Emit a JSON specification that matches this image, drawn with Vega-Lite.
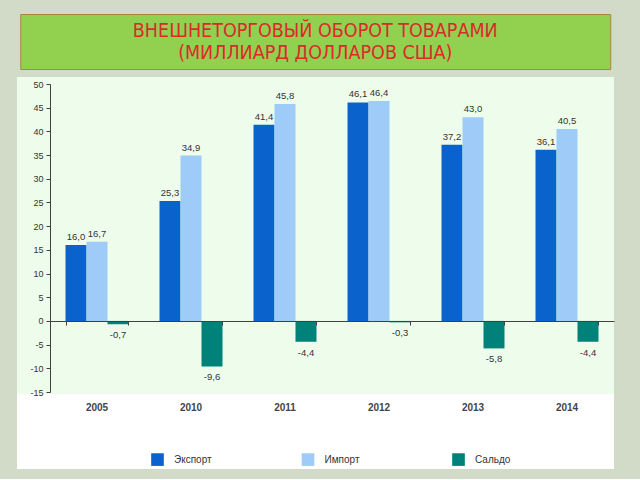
{
  "$schema": "https://vega.github.io/schema/vega-lite/v6.json",
  "background": "#d2dbc8",
  "padding": {"left": 17, "top": 13, "right": 26, "bottom": 10},
  "spacing": 6,
  "center": true,
  "config": {
    "locale": {"number": {"decimal": ",", "thousands": " ", "grouping": [3], "currency": ["", ""], "minus": "-"}},
    "font": "Liberation Sans",
    "view": {"stroke": null}
  },
  "datasets": {
    "heading": [
      {"line": 1, "text": "ВНЕШНЕТОРГОВЫЙ ОБОРОТ ТОВАРАМИ"},
      {"line": 2, "text": "(МИЛЛИАРД ДОЛЛАРОВ США)"}
    ],
    "trade": [
      {"year": "2005", "series": "Экспорт", "value": 16.0},
      {"year": "2005", "series": "Импорт", "value": 16.7},
      {"year": "2005", "series": "Сальдо", "value": -0.7},
      {"year": "2010", "series": "Экспорт", "value": 25.3},
      {"year": "2010", "series": "Импорт", "value": 34.9},
      {"year": "2010", "series": "Сальдо", "value": -9.6},
      {"year": "2011", "series": "Экспорт", "value": 41.4},
      {"year": "2011", "series": "Импорт", "value": 45.8},
      {"year": "2011", "series": "Сальдо", "value": -4.4},
      {"year": "2012", "series": "Экспорт", "value": 46.1},
      {"year": "2012", "series": "Импорт", "value": 46.4},
      {"year": "2012", "series": "Сальдо", "value": -0.3},
      {"year": "2013", "series": "Экспорт", "value": 37.2},
      {"year": "2013", "series": "Импорт", "value": 43.0},
      {"year": "2013", "series": "Сальдо", "value": -5.8},
      {"year": "2014", "series": "Экспорт", "value": 36.1},
      {"year": "2014", "series": "Импорт", "value": 40.5},
      {"year": "2014", "series": "Сальдо", "value": -4.4}
    ]
  },
  "vconcat": [
    {
      "width": 590,
      "height": 55,
      "view": {"fill": "#92d050", "stroke": "#a8873a", "strokeWidth": 1},
      "data": {"name": "heading"},
      "mark": {"type": "text", "font": "DejaVu Sans Condensed, Liberation Sans", "fontSize": 19.5, "color": "#dc2a2a", "align": "center", "baseline": "middle"},
      "encoding": {
        "y": {"field": "line", "type": "ordinal", "axis": null, "scale": {"padding": 0.75}},
        "text": {"field": "text"}
      }
    },
    {
      "width": 597,
      "height": 392,
      "view": {"fill": "#ffffff", "stroke": null},
      "data": {"name": "trade"},
      "resolve": {"axis": {"x": "independent"}},
      "layer": [
        {
          "data": {"values": [{"area": "plot"}]},
          "mark": {"type": "rect", "color": "#eefcec"},
          "encoding": {
            "y": {"datum": -15.4, "type": "quantitative"},
            "y2": {"datum": 51.5}
          }
        },
        {
          "mark": {"type": "bar"},
          "encoding": {
            "x": {"field": "year", "type": "nominal", "sort": null,
              "scale": {"range": [33, 597], "paddingInner": 0.33, "paddingOuter": 0.165},
              "axis": {"orient": "bottom", "offset": -148, "zindex": 1, "title": null, "labels": false, "ticks": true, "tickBand": "extent", "tickSize": 4, "tickColor": "#404040", "domainColor": "#404040", "grid": false}},
            "xOffset": {"field": "series", "sort": ["Экспорт", "Импорт", "Сальдо"], "scale": {"paddingInner": 0, "paddingOuter": 0}},
            "y": {"field": "value", "type": "quantitative",
              "scale": {"domain": [-15, 50], "range": [315, 7], "nice": false},
              "axis": {"title": null, "zindex": 1, "values": [-15, -10, -5, 0, 5, 10, 15, 20, 25, 30, 35, 40, 45, 50], "tickCount": 20, "labelOverlap": false, "format": "d", "grid": false, "offset": -33, "domainColor": "#404040", "tickColor": "#404040", "tickSize": 4, "labelFontSize": 9, "labelColor": "#333333", "labelPadding": 3}},
            "color": {"field": "series", "type": "nominal", "sort": ["Экспорт", "Импорт", "Сальдо"],
              "scale": {"domain": ["Экспорт", "Импорт", "Сальдо"], "range": ["#0a62cc", "#9fcbf8", "#00827a"]},
              "legend": {"orient": "none", "legendX": 134, "legendY": 439, "direction": "horizontal", "title": null, "symbolType": "square", "symbolSize": 160, "symbolStrokeWidth": 0, "labelFontSize": 10, "labelColor": "#333333", "labelOffset": 10, "columnPadding": 89.5, "gridAlign": "all", "padding": 0}}
          }
        },
        {
          "transform": [{"filter": "datum.value >= 0"}],
          "mark": {"type": "text", "baseline": "bottom", "dy": -3, "fontSize": 9.5, "color": "#333333"},
          "encoding": {
            "x": {"field": "year", "type": "nominal", "sort": null,
              "axis": {"orient": "bottom", "offset": -77, "zindex": 1, "title": null, "domain": false, "ticks": false, "labelPadding": 10, "labelFontSize": 10, "labelFontWeight": "bold", "labelColor": "#444444", "labelAngle": 0, "grid": false}},
            "xOffset": {"field": "series", "sort": ["Экспорт", "Импорт", "Сальдо"]},
            "y": {"field": "value", "type": "quantitative"},
            "text": {"field": "value", "type": "quantitative", "format": ".1f"}
          }
        },
        {
          "transform": [{"filter": "datum.value < 0"}],
          "mark": {"type": "text", "baseline": "top", "dy": 6, "fontSize": 9.5, "color": "#333333"},
          "encoding": {
            "x": {"field": "year", "type": "nominal", "sort": null, "axis": null},
            "xOffset": {"field": "series", "sort": ["Экспорт", "Импорт", "Сальдо"]},
            "y": {"field": "value", "type": "quantitative"},
            "text": {"field": "value", "type": "quantitative", "format": ".1f"}
          }
        }
      ]
    }
  ]
}
